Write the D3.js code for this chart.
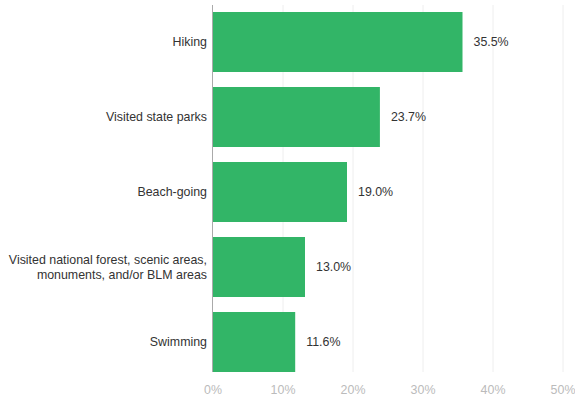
<!DOCTYPE html>
<meta charset="utf-8">
<style>
  body { margin: 0; background: #fff; }
  text { font-family: "Liberation Sans", Arial, sans-serif; }
</style>
<svg width="575" height="398"></svg>
<script src="https://d3js.org/d3.v7.min.js"></script>
<script>

var categories = ["Hiking", "Visited state parks", "Beach-going",
                  "Visited national forest, scenic areas,|monuments, and/or BLM areas", "Swimming"],
    values = [35.5, 23.7, 19.0, 13.0, 11.6],
    ticks = [0, 10, 20, 30, 40, 50];

var svg = d3.select("svg");

var x = d3.scaleLinear().domain([0, 50]).range([213, 563]);
var y = d3.scaleBand().domain(categories).range([4.5, 379.5])
    .paddingInner(0.2).paddingOuter(0.1);

// grid
svg.selectAll(".grid").data(ticks.slice(1)).enter().append("line")
    .attr("x1", x).attr("x2", x)
    .attr("y1", 5).attr("y2", 372)
    .attr("stroke", "#eeeeee").attr("stroke-width", 1);

svg.selectAll(".tick").data(ticks).enter().append("text")
    .attr("x", x).attr("y", 394)
    .attr("text-anchor", "middle")
    .attr("font-size", 12.4)
    .attr("fill", "#bbbbbb")
    .text(function(d) { return d + "%"; });

// bars
svg.selectAll(".bar").data(values).enter().append("rect")
    .attr("x", x(0))
    .attr("y", function(d, i) { return y(categories[i]); })
    .attr("width", function(d) { return x(d) - x(0) + 1; })
    .attr("height", y.bandwidth())
    .attr("fill", "#32b567");

svg.selectAll(".val").data(values).enter().append("text")
    .attr("x", function(d) { return x(d) + 12; })
    .attr("y", function(d, i) { return y(categories[i]) + y.bandwidth() / 2 + 4; })
    .attr("font-size", 12.4)
    .attr("fill", "#333")
    .text(function(d) { return d.toFixed(1) + "%"; });

// category labels
categories.forEach(function(c) {
  var lines = c.split("|"),
      cy = y(c) + y.bandwidth() / 2;
  var t = svg.append("text")
      .attr("text-anchor", "end")
      .attr("font-size", 12.4)
      .attr("fill", "#333");
  lines.forEach(function(l, j) {
    t.append("tspan")
        .attr("x", 207)
        .attr("y", cy + 4 + (j - (lines.length - 1) / 2) * 15)
        .text(l);
  });
});

// axis line
svg.append("line")
    .attr("x1", x(0) - 0.5).attr("x2", x(0) - 0.5)
    .attr("y1", 5).attr("y2", 372)
    .attr("stroke", "#aaaaaa").attr("stroke-width", 1);

</script>
